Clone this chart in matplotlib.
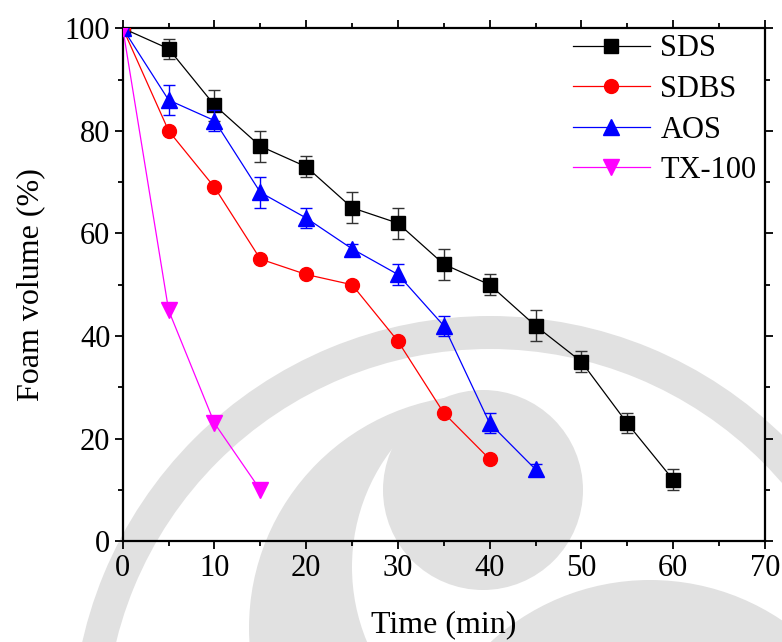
import matplotlib
matplotlib.use("Agg")
import matplotlib.pyplot as plt
from matplotlib.patches import Circle, Wedge
from matplotlib.ticker import MultipleLocator

plt.rcParams['font.family'] = ['Liberation Serif', 'DejaVu Serif']

# data
sds_t = [0, 5, 10, 15, 20, 25, 30, 35, 40, 45, 50, 55, 60]
sds_v = [100, 96, 85, 77, 73, 65, 62, 54, 50, 42, 35, 23, 12]
sds_err = [0, 2, 3, 3, 2, 3, 3, 3, 2, 3, 2, 2, 2]

sdbs_t = [0, 5, 10, 15, 20, 25, 30, 35, 40]
sdbs_v = [100, 80, 69, 55, 52, 50, 39, 25, 16]

aos_t = [0, 5, 10, 15, 20, 25, 30, 35, 40, 45]
aos_v = [100, 86, 82, 68, 63, 57, 52, 42, 23, 14]
aos_err = [0, 3, 2, 3, 2, 1, 2, 2, 2, 1]

tx_t = [0, 5, 10, 15]
tx_v = [100, 45, 23, 10]

fig = plt.figure(figsize=(7.82, 6.42), dpi=100)

# faint logo watermark behind the plot (pixel coords)
bg = fig.add_axes([0, 0, 1, 1], zorder=0)
bg.set_xlim(0, 782)
bg.set_ylim(642, 0)
bg.axis('off')
wm = '#e1e1e1'
bg.add_patch(Circle((482, 628), 233, color=wm, lw=0))
bg.add_patch(Circle((546, 567), 194, color='white', lw=0))
bg.add_patch(Circle((650, 816), 236, color=wm, lw=0))
bg.add_patch(Circle((483, 490), 100, color=wm, lw=0))
bg.add_patch(Wedge((490, 734), 418, 0, 360, width=33, color=wm, lw=0))

ax = fig.add_axes([0.157, 0.157, 0.821, 0.799], zorder=1)
ax.patch.set_alpha(0)

ms = 10
sds = ax.errorbar(sds_t, sds_v, yerr=sds_err, color='black', marker='s', ms=ms - 0.5,
                  lw=0.9, elinewidth=1, capsize=4, ecolor='#333333', zorder=3)
sdbs, = ax.plot(sdbs_t, sdbs_v, color='red', marker='o', ms=ms, lw=0.9, zorder=4)
aos = ax.errorbar(aos_t, aos_v, yerr=aos_err, color='blue', marker='^', ms=ms + 1,
                  lw=0.9, elinewidth=1, capsize=4, zorder=5)
tx, = ax.plot(tx_t, tx_v, color='magenta', marker='v', ms=ms + 1, lw=0.9, zorder=6)

ax.set_xlim(0, 70)
ax.set_ylim(0, 100)
ax.xaxis.set_major_locator(MultipleLocator(10))
ax.xaxis.set_minor_locator(MultipleLocator(5))
ax.yaxis.set_major_locator(MultipleLocator(20))
ax.yaxis.set_minor_locator(MultipleLocator(10))
ax.tick_params(which='both', direction='out', top=True, right=True,
               labeltop=False, labelright=False, width=1.3, pad=3)
ax.tick_params(which='major', length=6)
ax.tick_params(which='minor', length=3.5)
ax.tick_params(axis='both', labelsize=22)
for s in ax.spines.values():
    s.set_linewidth(1.6)

ax.set_xlabel('Time (min)', fontsize=23, labelpad=20)
ax.set_ylabel('Foam volume (%)', fontsize=23, labelpad=14)

ax.legend([sds[0], sdbs, aos[0], tx], ['SDS', 'SDBS', 'AOS', 'TX-100'],
          loc='upper right', bbox_to_anchor=(1.006, 1.012), frameon=False,
          fontsize=22, handlelength=2.5, handletextpad=0.35, labelspacing=0.38,
          borderaxespad=0)

fig.savefig('out.png', dpi=100)
